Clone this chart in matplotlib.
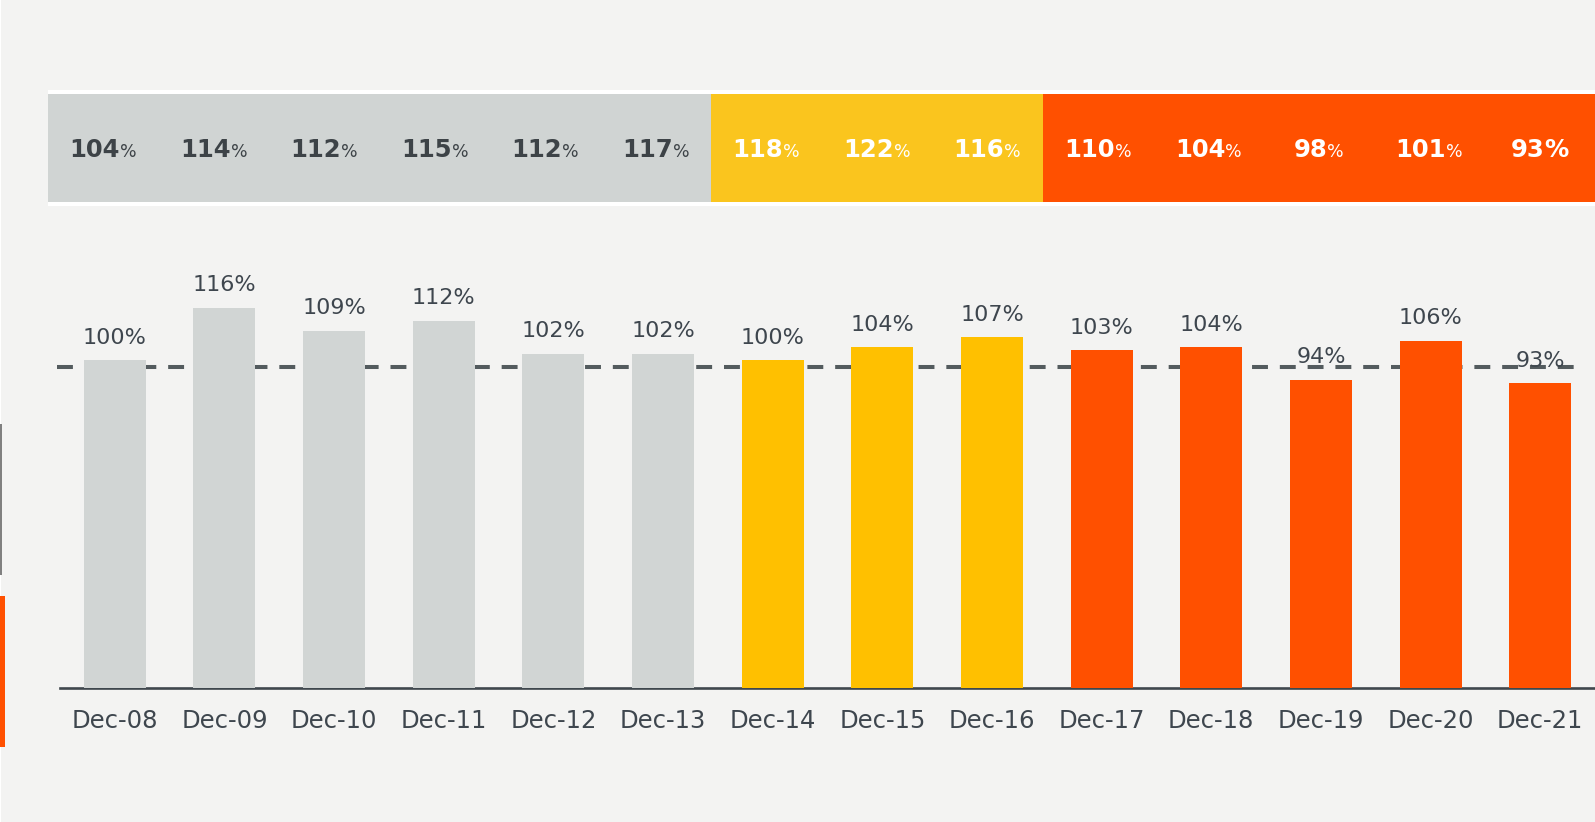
import numpy as np
import matplotlib ; matplotlib.use('Agg')
from matplotlib import pyplot as plt
from matplotlib.patches import Rectangle
from matplotlib.offsetbox import TextArea, HPacker, AnnotationBbox

# Values
labels = ['Dec-08', 'Dec-09', 'Dec-10', 'Dec-11', 'Dec-12', 'Dec-13', 'Dec-14',
          'Dec-15', 'Dec-16', 'Dec-17', 'Dec-18', 'Dec-19', 'Dec-20', 'Dec-21']
bar_vals = [100, 116, 109, 112, 102, 102, 100, 104, 107, 103, 104, 94, 106, 93]
band_vals = [104, 114, 112, 115, 112, 117, 118, 122, 116, 110, 104, 98, 101, 93]
groups = ['grey'] * 6 + ['yellow'] * 3 + ['orange'] * 5
target = 98

# Colours
bg = '#f3f3f2'
txt = '#3e464e'
bar_col = {'grey': '#d1d5d4', 'yellow': '#ffc000', 'orange': '#ff5000'}
band_col = {'grey': '#d0d4d3', 'yellow': '#fac51e', 'orange': '#ff5000'}
band_txt = {'grey': '#3d4347', 'yellow': 'white', 'orange': 'white'}

W, H = 1595, 822
fig = plt.figure(figsize=(W / 100., H / 100.), dpi=100, facecolor=bg)

# Main bar chart
ax = fig.add_axes([60. / W, 134. / H, 1 - 60. / W, 426. / H])
ax.set_facecolor('none')
x = np.arange(len(labels))
ax.bar(x, bar_vals, width=0.566, color=[bar_col[g] for g in groups], zorder=3)
ax.axhline(target, xmin=-0.002, xmax=0.993, color='#535b5e', lw=2.9,
           linestyle=(0, (3.95, 2.95)), zorder=2, clip_on=False)
for i, v in enumerate(bar_vals):
    ax.annotate('{}%'.format(v), (i, v), xytext=(0, 12), textcoords='offset points',
                ha='center', va='baseline', fontsize=16, color=txt, zorder=5)

ax.set_xlim(-0.5, 13.5) ; ax.set_ylim(0, 130)
ax.set_xticks(x, labels)
ax.set_yticks([])
ax.tick_params(axis='x', length=0, pad=15, labelsize=17.5, labelcolor=txt)
for s in ['top', 'left', 'right']:
    ax.spines[s].set_visible(False)
ax.spines['bottom'].set_color('#3f474d')
ax.spines['bottom'].set_linewidth(1.9)

# Top band
axb = fig.add_axes([48. / W, (H - 202.) / H, 1 - 48. / W, 108. / H])
axb.set_xlim(-0.5, 13.5) ; axb.set_ylim(0, 1)
axb.axis('off')
axb.add_patch(Rectangle((0, -4. / 108), 1, 116. / 108, transform=axb.transAxes,
                        facecolor='white', zorder=0, clip_on=False))
axb.bar(x, 1, width=1, color=[band_col[g] for g in groups], zorder=1)
for i, v in enumerate(band_vals):
    c = band_txt[groups[i]]
    num = TextArea(str(v), textprops=dict(fontsize=17.5, fontweight='bold', color=c))
    if i == len(band_vals) - 1:
        pct = TextArea('%', textprops=dict(fontsize=17.5, fontweight='bold', color=c))
    else:
        pct = TextArea('%', textprops=dict(fontsize=12.5, color=c))
    pack = HPacker(children=[num, pct], align='baseline', pad=0, sep=0)
    ab = AnnotationBbox(pack, (i, 0.48), xycoords='data', frameon=False,
                        box_alignment=(0.5, 0.5), pad=0)
    axb.add_artist(ab)

# Left edge markers
fig.patches.append(Rectangle((0, 0), 1. / W, 1, transform=fig.transFigure,
                             facecolor='white', edgecolor='none'))
fig.patches.append(Rectangle((0, (H - 575.) / H), 2. / W, 151. / H,
                             transform=fig.transFigure, facecolor='#808080', edgecolor='none'))
fig.patches.append(Rectangle((0, (H - 747.) / H), 5. / W, 151. / H,
                             transform=fig.transFigure, facecolor='#ff5000', edgecolor='none'))

fig.savefig('out.png', dpi=100, facecolor=bg)
